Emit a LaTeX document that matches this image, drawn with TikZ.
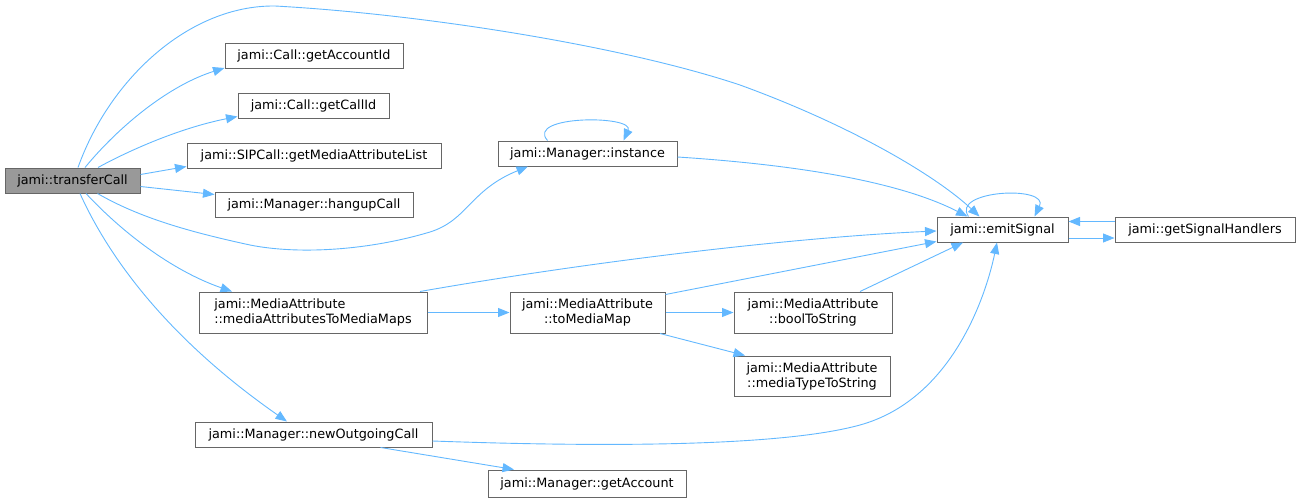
\documentclass[tikz,border=0pt]{standalone}
\usepackage{fontspec}
\setmainfont{DejaVu Sans}
\usepackage{tikz}
\usetikzlibrary{arrows.meta}
\definecolor{edgeblue}{RGB}{99,184,255}
\definecolor{boxgray}{RGB}{102,102,102}
\definecolor{rootgray}{RGB}{153,153,153}

\begin{document}
\begin{tikzpicture}[x=1pt,y=-1pt,
    fn/.style={draw=boxgray,fill=white,line width=1pt,inner sep=0pt,minimum height=25pt,
      font=\fontsize{12.8}{15}\selectfont,align=center},
    fnroot/.style={fn,fill=rootgray},
    fntwo/.style={fn,minimum height=41pt},
    call/.style={draw=edgeblue,line width=0.9pt,-{Triangle[length=11.5pt,width=9pt]}}]
	  \useasboundingbox (0,0) rectangle (1300,503);
	  \node [fnroot,minimum width=135pt] (tc) at (72.5,180.5) {jami::transferCall};
	  \node [fn,minimum width=178pt] (aid) at (314,56) {jami::Call::getAccountId};
	  \node [fn,minimum width=151pt] (cid) at (313.5,105.5) {jami::Call::getCallId};
	  \node [fn,minimum width=254pt] (mal) at (314,155.5) {jami::SIPCall::getMediaAttributeList};
	  \node [fn,minimum width=198pt] (hup) at (314,204.5) {jami::Manager::hangupCall};
	  \node [fn,minimum width=179pt] (ins) at (587.5,153.5) {jami::Manager::instance};
	  \node [fn,minimum width=131pt] (es) at (1002.5,229.5) {jami::emitSignal};
	  \node [fn,minimum width=180pt] (gsh) at (1205,229.5) {jami::getSignalHandlers};
	  \node [fntwo,minimum width=228pt,align=left] (m2m) at (313,312.5) {jami::MediaAttribute\\::mediaAttributesToMediaMaps};
	  \node [fntwo,minimum width=155pt] (tmm) at (587.5,312.5) {jami::MediaAttribute\\::toMediaMap};
	  \node [fntwo,minimum width=158pt] (bts) at (813,312.5) {jami::MediaAttribute\\::boolToString};
	  \node [fntwo,minimum width=156pt,minimum height=40pt] (mts) at (812,376) {jami::MediaAttribute\\::mediaTypeToString};
	  \node [fn,minimum width=237pt] (noc) at (313.5,434.5) {jami::Manager::newOutgoingCall};
	  \node [fn,minimum width=198pt,minimum height=27pt] (gac) at (587,483.5) {jami::Manager::getAccount};
	  % calls out of transferCall
	  \draw [call] ([xshift=5.5pt]tc.north) .. controls (110,78) and (190,5) .. (275,6)
	    .. controls (420,14) and (620,45) .. (740,85) .. controls (850,125) and (935,175) .. ([xshift=-23pt]es.north);
	  \draw [call] ([xshift=12.5pt]tc.north) .. controls (120,125) and (170,85) .. ([yshift=1pt]aid.south west);
	  \draw [call] ([xshift=25.5pt]tc.north) .. controls (130,150) and (180,128) .. ([yshift=2pt]cid.south west);
	  \draw [call] ([yshift=6pt]tc.east) -- ([yshift=2pt]mal.south west);
	  \draw [call] ([yshift=-6pt]tc.east) -- ([yshift=10pt]hup.west);
	  \draw [call] ([xshift=25pt]tc.south) .. controls (140,218) and (190,232) .. (250,245)
	    .. controls (300,255) and (370,250) .. (430,232) .. controls (468,220) and (470,190) .. ([xshift=-59.5pt]ins.south);
	  \draw [call] ([xshift=13.5pt]tc.south) .. controls (120,230) and (170,270) .. ([xshift=-81pt]m2m.north);
	  \draw [call] ([xshift=7.5pt]tc.south) .. controls (110,260) and (170,340) .. ([xshift=-26.5pt]noc.north);
	  % instance
	  \draw [call] ([xshift=-40pt]ins.north) .. controls (525,115) and (635,115) .. ([xshift=36pt]ins.north);
	  \draw [call] ([yshift=-3.5pt]ins.east) .. controls (800,165) and (900,182) .. ([xshift=-35pt]es.north);
	  % media attributes
	  \draw [call] ([xshift=107pt]m2m.north) .. controls (600,260) and (800,237) .. ([yshift=-1.5pt]es.west);
	  \draw [call] (m2m.east) -- (tmm.west);
	  \draw [call] ([yshift=-3pt]tmm.north east) -- ([yshift=1pt]es.south west);
	  \draw [call] (tmm.east) -- (bts.west);
	  \draw [call] ([xshift=72.5pt]tmm.south) -- ([xshift=-67pt]mts.north);
	  \draw [call] ([xshift=47pt]bts.north) -- ([xshift=-39.5pt]es.south);
	  % emitSignal
	  \draw [call] ([xshift=-34pt]es.north) .. controls (950,190) and (1050,185) .. ([xshift=32pt]es.north);
	  \draw [call] ([yshift=-8.5pt]es.east) -- ([yshift=-8.5pt]gsh.west);
	  \draw [call] ([yshift=8pt]gsh.west) -- ([yshift=8pt]es.east);
	  % newOutgoingCall
	  \draw [call] ([yshift=-6.5pt]noc.east) .. controls (600,447) and (780,447) .. (860,425)
	    .. controls (950,400) and (985,300) .. ([xshift=-5.5pt]es.south);
	  \draw [call] ([xshift=67pt]noc.south) -- ([xshift=-73pt]gac.north);
\end{tikzpicture}
\end{document}
